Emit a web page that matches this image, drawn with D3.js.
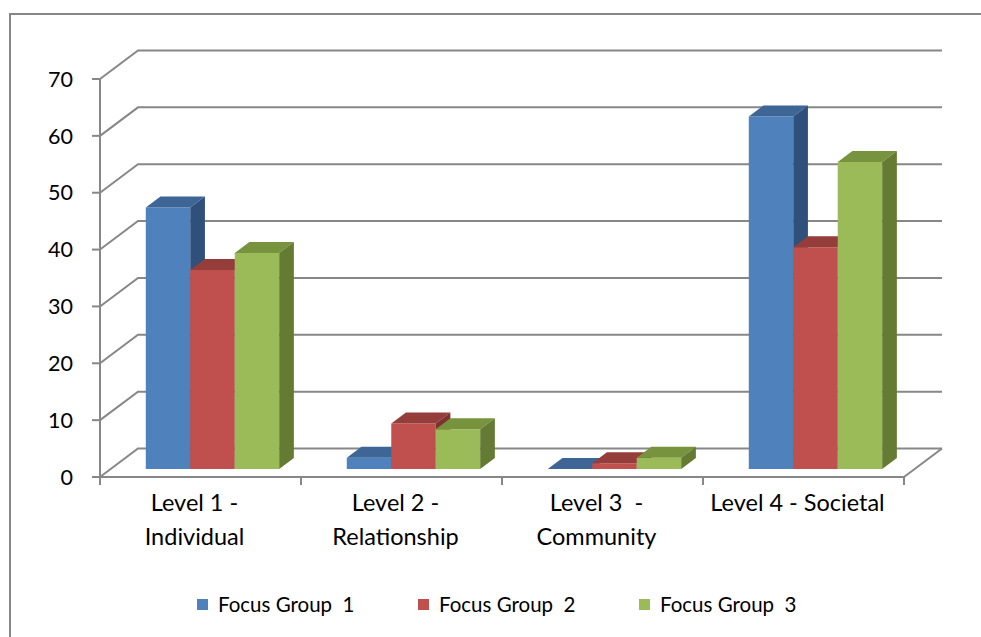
<!DOCTYPE html>
<html>
<head>
<meta charset="utf-8">
<script src="https://cdn.jsdelivr.net/npm/d3@7"></script>
<style>
  html, body { margin: 0; padding: 0; background: #fff; }
  svg { display: block; }
  text { font-family: Lato, "Open Sans", sans-serif; fill: #000; white-space: pre; }
</style>
</head>
<body>
<svg id="chart" width="981" height="637"></svg>
<script>
// ---- data ----
const categories = ["Level 1 - Individual", "Level 2 - Relationship", "Level 3 - Community", "Level 4 - Societal"];
const categoryLines = [["Level 1 -", "Individual"], ["Level 2 -", "Relationship"], ["Level 3  -", "Community"], ["Level 4 - Societal"]];
const seriesNames = ["Focus Group  1", "Focus Group  2", "Focus Group  3"];
const focusGroup1 = [46, 2, 0, 62];
const focusGroup2 = [35, 8, 1, 39];
const focusGroup3 = [38, 7, 2, 54];
const yTicks = [0, 10, 20, 30, 40, 50, 60, 70];

const seriesValues = [focusGroup1, focusGroup2, focusGroup3];
const faceColors = [
  { front: "#4F81BD", top: "#3D6596", side: "#2F507B" },
  { front: "#C0504D", top: "#953D3B", side: "#7E3230" },
  { front: "#9BBB59", top: "#77933D", side: "#657B34" }
];

const svg = d3.select("#chart");
const grid = "#878787";

// chart border
svg.append("rect").attr("x", 10).attr("y", 14).attr("width", 1000).attr("height", 700)
  .attr("fill", "none").attr("stroke", grid).attr("stroke-width", 2);

// ---- scales ----
const X = d3.scaleBand().domain(categories).range([100, 904]);
const Y = d3.scaleLinear().domain([0, 70]).range([477, 79]);
const inner = d3.scaleBand().domain(seriesNames).range([0, X.bandwidth()])
  .paddingInner(0).paddingOuter(0.76).align(0.52);
const DX = 38, DY = 28.5;          // depth offset of back wall
const D0 = 0.28, D1 = 0.666;       // bar depth span
const P = (x, v, d) => [x + d * DX, Y(v) - d * DY];
const line = d3.line();

// ---- walls / gridlines ----
const x0 = X.range()[0], x1 = X.range()[1];
yTicks.forEach(t => {
  svg.append("path")
    .attr("d", line([P(x0, t, 0), P(x0, t, 1), P(x1, t, 1)]))
    .attr("fill", "none").attr("stroke", grid).attr("stroke-width", 2);
});
// floor right edge
svg.append("path").attr("d", line([P(x1, 0, 0), P(x1, 0, 1)]))
  .attr("fill", "none").attr("stroke", grid).attr("stroke-width", 2);

// ---- axes ----
svg.append("path").attr("d", line([[x0, Y(70)], [x0, Y(0)], [x1, Y(0)]]))
  .attr("fill", "none").attr("stroke", grid).attr("stroke-width", 2);
yTicks.forEach(t => {
  svg.append("line").attr("x1", x0 - 8).attr("x2", x0).attr("y1", Y(t)).attr("y2", Y(t))
    .attr("stroke", grid).attr("stroke-width", 2);
  svg.append("text").attr("x", 73).attr("y", Y(t)).attr("dy", "0.36em")
    .attr("text-anchor", "end").style("font-size", "21.5px").text(t);
});
const xTickPos = categories.map(c => X(c)).concat([x1]);
xTickPos.forEach(x => {
  svg.append("line").attr("x1", x).attr("x2", x).attr("y1", Y(0)).attr("y2", Y(0) + 8)
    .attr("stroke", grid).attr("stroke-width", 2);
});
categories.forEach((c, i) => {
  const cx = X(c) + X.bandwidth() / 2 - 6;
  categoryLines[i].forEach((ln, k) => {
    svg.append("text").attr("x", cx).attr("y", 511 + k * 33.5)
      .attr("text-anchor", "middle").style("font-size", "23.5px").text(ln);
  });
});

// ---- bars ----
const bars = svg.append("g");
categories.forEach((c, i) => {
  seriesNames.forEach((s, j) => {
    const v = seriesValues[j][i];
    const bx0 = X(c) + inner(s), bx1 = bx0 + inner.bandwidth();
    const col = faceColors[j];
    bars.append("path").attr("d", line([P(bx0, 0, D0), P(bx1, 0, D0), P(bx1, v, D0), P(bx0, v, D0)]) + "Z")
      .attr("fill", col.front);
    bars.append("path").attr("d", line([P(bx0, v, D0), P(bx1, v, D0), P(bx1, v, D1), P(bx0, v, D1)]) + "Z")
      .attr("fill", col.top);
    bars.append("path").attr("d", line([P(bx1, 0, D0), P(bx1, 0, D1), P(bx1, v, D1), P(bx1, v, D0)]) + "Z")
      .attr("fill", col.side);
  });
});

// ---- legend ----
const legendX = d3.scaleBand().domain(seriesNames).range([197, 860]);
seriesNames.forEach((s, j) => {
  const lx = legendX(s);
  svg.append("rect").attr("x", lx).attr("y", 599).attr("width", 11).attr("height", 11)
    .attr("fill", faceColors[j].front);
  svg.append("text").attr("x", lx + 21).attr("y", 605).attr("dy", "0.36em")
    .style("font-size", "20.5px").text(s);
});
</script>
</body>
</html>
